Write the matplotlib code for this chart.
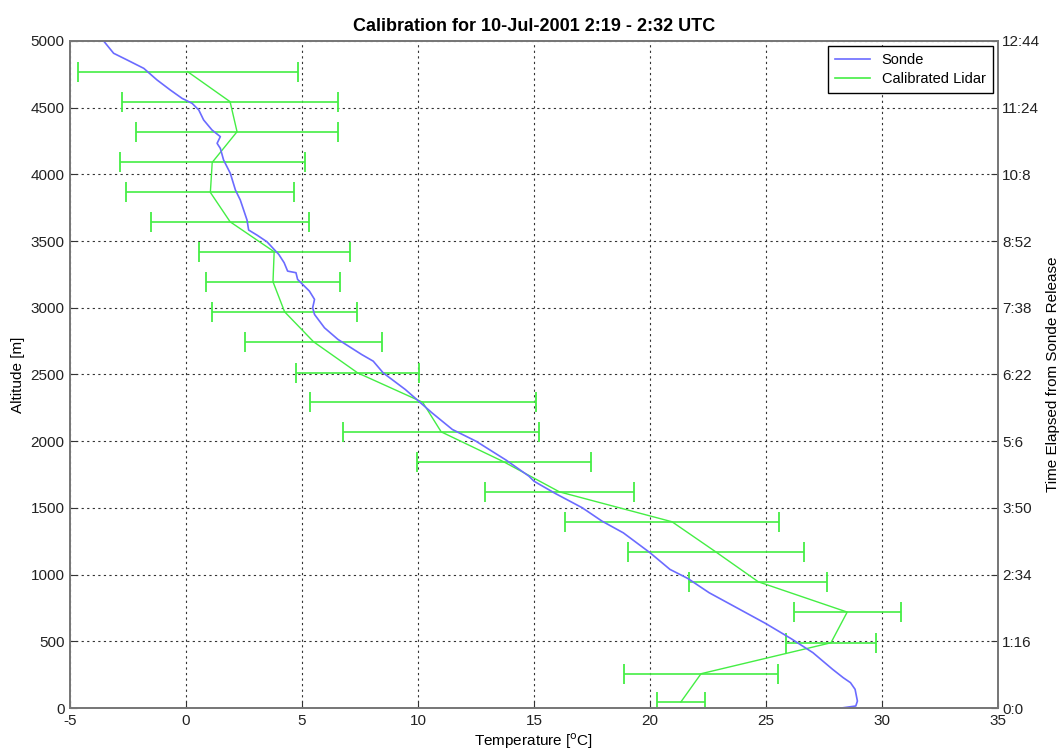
import matplotlib
matplotlib.use("Agg")
import matplotlib.pyplot as plt
from matplotlib.lines import Line2D

plt.rcParams['font.family'] = ['Liberation Sans', 'DejaVu Sans']
plt.rcParams['axes.unicode_minus'] = False

# Sonde profile (temperature degC vs altitude m)
sonde_alt = [0, 15, 52, 140, 190, 227, 290, 415, 519, 634, 777, 864, 971, 1039, 1164,
             1313, 1401, 1501, 1608, 1700, 1738, 1858, 2000, 2088, 2213, 2300, 2388,
             2512, 2600, 2650, 2763, 2850, 2950, 3000, 3063, 3125, 3213, 3263, 3275,
             3338, 3400, 3495, 3545, 3583, 3658, 3808, 3883, 4008, 4108, 4195, 4233,
             4283, 4333, 4408, 4483, 4533, 4570, 4633, 4708, 4795, 4858, 4908, 5000]
sonde_temp = [28.25, 28.87, 28.94, 28.84, 28.64, 28.33, 27.87, 27.02, 26.09, 24.98,
              23.47, 22.55, 21.63, 20.86, 20.0, 18.85, 17.93, 17.08, 15.92, 15.0,
              14.78, 13.8, 12.5, 11.48, 10.6, 10.03, 9.45, 8.5, 8.07, 7.57, 6.55, 5.97,
              5.54, 5.46, 5.54, 5.32, 4.81, 4.74, 4.38, 4.23, 4.0, 3.49, 3.06, 2.7,
              2.63, 2.34, 2.13, 1.91, 1.62, 1.48, 1.34, 1.48, 1.12, 0.76, 0.55, 0.26,
              -0.17, -0.68, -1.25, -1.82, -2.54, -3.12, -3.55]

# Calibrated lidar profile with error bars
lidar_alt = [45, 257, 489, 719, 946, 1171, 1396, 1620, 1845, 2070, 2292, 2512, 2745,
             2970, 3195, 3420, 3645, 3865, 4090, 4320, 4545, 4770]
lidar_temp = [21.33, 22.2, 27.8, 28.5, 24.67, 22.83, 20.95, 16.1, 13.7, 11.0, 10.2, 7.4,
              5.5, 4.25, 3.75, 3.8, 1.9, 1.05, 1.13, 2.2, 1.9, 0.07]
lidar_err = [1.02, 3.31, 1.92, 2.3, 2.97, 3.79, 4.6, 3.2, 3.75, 4.22, 4.87, 2.64, 2.96,
             3.12, 2.9, 3.26, 3.4, 3.62, 3.98, 4.36, 4.67, 4.74]

x_ticks = [-5, 0, 5, 10, 15, 20, 25, 30, 35]
y_ticks = [0, 500, 1000, 1500, 2000, 2500, 3000, 3500, 4000, 4500, 5000]
time_labels = ['0:0', '1:16', '2:34', '3:50', '5:6', '6:22', '7:38', '8:52', '10:8',
               '11:24', '12:44']

blue = '#6b6bff'
green = '#44ee44'

fig = plt.figure(figsize=(10.62, 7.56), dpi=100)
ax = fig.add_axes([70 / 1062, 48 / 756, 928 / 1062, 667 / 756])

ax.plot(sonde_temp, sonde_alt, color=blue, lw=1.2, label='Sonde', zorder=3)
ax.errorbar(lidar_temp, lidar_alt, xerr=lidar_err, color=green, ecolor=green,
            lw=1.0, elinewidth=1.2, capsize=7, capthick=1.3,
            label='Calibrated Lidar', zorder=2)

ax.set_xlim(-5, 35)
ax.set_ylim(0, 5000)
ax.set_xticks(x_ticks)
ax.set_yticks(y_ticks)
ax.grid(True, color='#333333', linestyle=(0, (2, 3)), lw=0.8)
ax.tick_params(direction='in', length=5, labelsize=11, colors='#333333',
               labelcolor='#222222', pad=4)
for s in ax.spines.values():
    s.set_color('#777777')
    s.set_linewidth(1.3)

ax.set_title('Calibration for 10-Jul-2001 2:19 - 2:32 UTC', fontsize=13,
             fontweight='bold', pad=7)
ax.set_xlabel('Temperature [$^{\\mathrm{o}}$C]', fontsize=11, labelpad=3)
ax.set_ylabel('Altitude [m]', fontsize=11, labelpad=4)

ax2 = ax.twinx()
ax2.set_ylim(0, 5000)
ax2.set_yticks(y_ticks)
ax2.set_yticklabels(time_labels)
ax2.tick_params(direction='in', length=5, labelsize=11, colors='#333333',
                labelcolor='#222222', pad=3)
for s in ax2.spines.values():
    s.set_color('#777777')
    s.set_linewidth(1.3)
ax2.set_ylabel('Time Elapsed from Sonde Release', fontsize=11, labelpad=4)

handles = [Line2D([], [], color=blue, lw=1.2), Line2D([], [], color=green, lw=1.2)]
leg = ax.legend(handles, ['Sonde', 'Calibrated Lidar'], loc='upper right',
                fontsize=10.5, frameon=True, fancybox=False, framealpha=1,
                edgecolor='black', borderaxespad=0.35, handlelength=2.4,
                borderpad=0.5, labelspacing=0.3, handletextpad=0.8)
leg.get_frame().set_linewidth(1.0)

fig.savefig('out.png', dpi=100)
